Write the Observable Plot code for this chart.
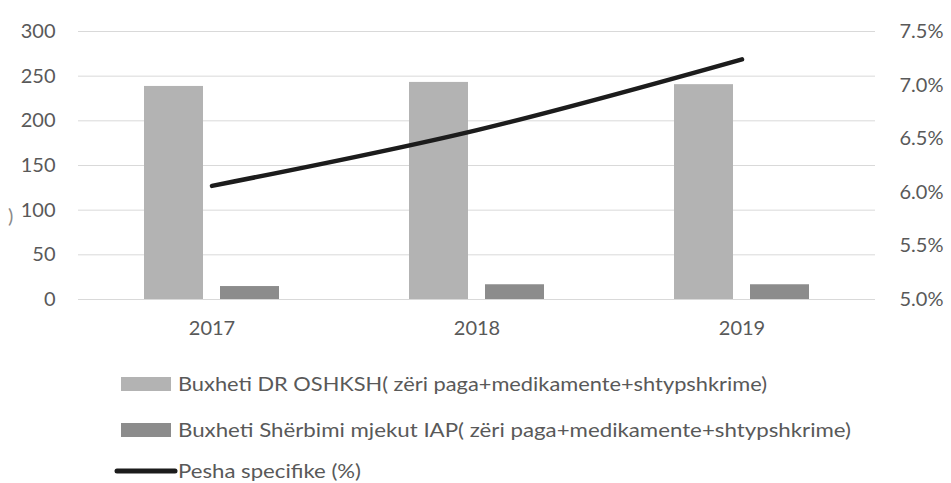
<!DOCTYPE html>
<html>
<head>
<meta charset="utf-8">
<script src="https://cdn.jsdelivr.net/npm/d3@7"></script>
<script src="https://cdn.jsdelivr.net/npm/@observablehq/plot@0.6"></script>
<style>
  html, body { margin: 0; padding: 0; background: #fff; }
  #wrap { position: relative; width: 951px; height: 483px; overflow: hidden; font-family: Lato, sans-serif; }
  #stray { position: absolute; left: 8px; top: 203px; font-size: 20px; color: #8a8a8a; }
</style>
</head>
<body>
<div id="wrap">
  <div id="chart"></div>
  <div id="legend"></div>
  <span id="stray">)</span>
</div>
<script>
const years = ["2017", "2018", "2019"];
const budgetDR = [238.5, 243, 240.5];
const budgetIAP = [14.5, 16.5, 16.5];
const sharePct = [6.06, 6.58, 7.24];
const leftTicks = [0, 50, 100, 150, 200, 250, 300];
const rightTickLabels = ["5.0%", "5.5%", "6.0%", "6.5%", "7.0%", "7.5%"];
const pctDomain = [5.0, 7.5];
const legendLabels = [
  "Buxheti DR OSHKSH( zëri paga+medikamente+shtypshkrime)",
  "Buxheti Shërbimi mjekut IAP( zëri paga+medikamente+shtypshkrime)",
  "Pesha specifike (%)"
];

const colorDR = "#b3b3b3", colorIAP = "#8c8c8c", colorLine = "#1c1c1c";
const leftMax = 300;
const toLeft = p => (p - pctDomain[0]) / (pctDomain[1] - pctDomain[0]) * leftMax;

const rows = years.map((y, i) => ({year: y, dr: budgetDR[i], iap: budgetIAP[i], share: sharePct[i]}));
const rightTicks = rightTickLabels.map((_, i) => toLeft(pctDomain[0] + i * 0.5));

const chart = Plot.plot({
  width: 951,
  height: 345,
  marginLeft: 78,
  marginRight: 76,
  marginTop: 31,
  marginBottom: 46,
  style: {fontFamily: "Lato, sans-serif", fontSize: "20px", color: "#595959", background: "white", overflow: "visible"},
  x: {domain: years, padding: 0, label: null},
  y: {domain: [0, leftMax], label: null},
  marks: [
    Plot.ruleY(leftTicks, {stroke: "#d9d9d9", strokeWidth: 1}),
    Plot.barY(rows, {x: "year", y: "dr", fill: colorDR, insetLeft: 65, insetRight: 141}),
    Plot.barY(rows, {x: "year", y: "iap", fill: colorIAP, insetLeft: 141, insetRight: 65}),
    Plot.line(rows, {x: "year", y: d => toLeft(d.share), stroke: colorLine, strokeWidth: 4.5, curve: "catmull-rom", strokeLinecap: "round"}),
    Plot.axisY({ticks: leftTicks, tickSize: 0, tickPadding: 23, label: null}),
    Plot.axisY({anchor: "right", ticks: rightTicks, tickSize: 0, tickPadding: 24, label: null,
      tickFormat: d => rightTickLabels[rightTicks.indexOf(d)]}),
    Plot.axisX({tickSize: 0, tickPadding: 21, label: null})
  ]
});
document.getElementById("chart").appendChild(chart);

// Legend below the chart
const lw = 951, lh = 138;
const svg = d3.select("#legend").append("svg").attr("width", lw).attr("height", lh)
  .style("display", "block").style("font-family", "Lato, sans-serif").style("font-size", "20px");
const rowY = [39, 85, 126];
const textLen = [589, 673, 183];
const items = [
  {type: "rect", color: colorDR},
  {type: "rect", color: colorIAP},
  {type: "line", color: colorLine}
];
items.forEach((it, i) => {
  const g = svg.append("g");
  if (it.type === "rect") {
    g.append("rect").attr("x", 121).attr("y", rowY[i] - 7).attr("width", 50).attr("height", 14).attr("fill", it.color);
  } else {
    g.append("line").attr("x1", 117).attr("x2", 175).attr("y1", rowY[i]).attr("y2", rowY[i])
      .attr("stroke", it.color).attr("stroke-width", 5).attr("stroke-linecap", "round");
  }
  g.append("text").attr("x", 178).attr("y", rowY[i]).attr("dy", "0.35em")
    .attr("fill", "#595959").attr("textLength", textLen[i]).attr("lengthAdjust", "spacingAndGlyphs")
    .text(legendLabels[i]);
});
</script>
</body>
</html>
